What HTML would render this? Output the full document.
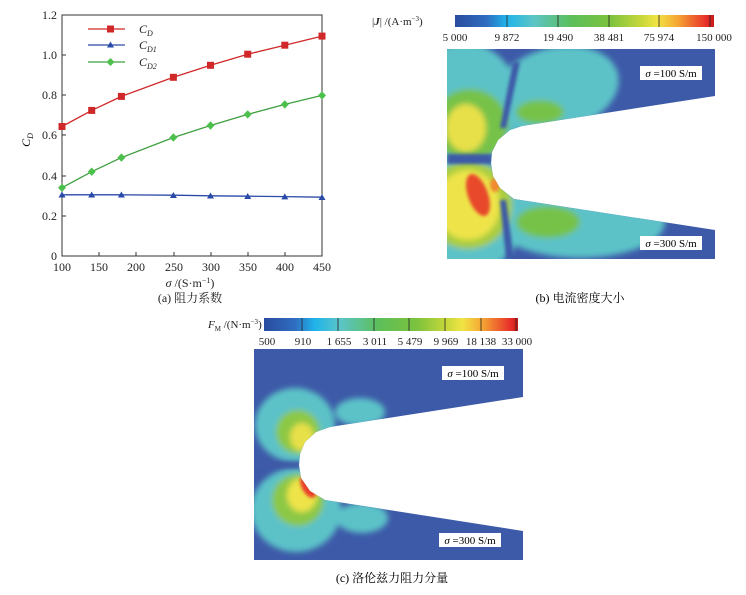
<!DOCTYPE html>
<html><head><meta charset="utf-8"><style>
html,body{margin:0;padding:0;background:#fff;}
svg{display:block;font-family:"Liberation Serif","Noto Serif CJK SC",serif;}
</style></head><body>
<svg width="746" height="595" viewBox="0 0 746 595" xmlns="http://www.w3.org/2000/svg">
<defs>
<linearGradient id="cm" x1="0" x2="1" y1="0" y2="0">
<stop offset="0" stop-color="#2a4c9e"/><stop offset="0.12" stop-color="#2f6cc0"/>
<stop offset="0.2" stop-color="#1fb4ea"/><stop offset="0.3" stop-color="#5cc4c8"/>
<stop offset="0.45" stop-color="#5cbf5a"/><stop offset="0.6" stop-color="#7cc23e"/>
<stop offset="0.72" stop-color="#c8d83a"/><stop offset="0.78" stop-color="#f0e444"/>
<stop offset="0.86" stop-color="#f5a534"/><stop offset="0.97" stop-color="#e8302a"/><stop offset="1" stop-color="#c81818"/>
</linearGradient>
<filter id="bl" x="-30%" y="-30%" width="160%" height="160%"><feGaussianBlur stdDeviation="3"/></filter>
<filter id="bl2" x="-30%" y="-30%" width="160%" height="160%"><feGaussianBlur stdDeviation="1.5"/></filter>
<clipPath id="cb"><polygon points="447,49 715,49 715,96 522,126 510,130 498,140 492,152 491,163 493,176 500,188 514,199 715,230 715,259 447,259"/></clipPath>
<clipPath id="cc"><polygon points="254,349 523,349 523,397 330,427 316,432 305,442 300,454 299,465 301,478 310,491 325,500 523,531 523,560 254,560"/></clipPath>
</defs>

<!-- (a) chart -->
<rect x="62" y="15" width="260" height="241" fill="#fff" stroke="#333" stroke-width="1"/>
<g stroke="#333" stroke-width="1">
<line x1="62" y1="216" x2="66" y2="216"/><line x1="62" y1="176" x2="66" y2="176"/><line x1="62" y1="135" x2="66" y2="135"/><line x1="62" y1="95" x2="66" y2="95"/><line x1="62" y1="55" x2="66" y2="55"/>
<line x1="99" y1="256" x2="99" y2="252"/><line x1="136" y1="256" x2="136" y2="252"/><line x1="174" y1="256" x2="174" y2="252"/><line x1="211" y1="256" x2="211" y2="252"/><line x1="248" y1="256" x2="248" y2="252"/><line x1="285" y1="256" x2="285" y2="252"/>
</g>
<g font-size="12" fill="#222" text-anchor="end">
<text x="57" y="260">0</text><text x="57" y="220">0.2</text><text x="57" y="180">0.4</text><text x="57" y="139">0.6</text><text x="57" y="99">0.8</text><text x="57" y="59">1.0</text><text x="57" y="19">1.2</text>
</g>
<g font-size="12" fill="#222" text-anchor="middle">
<text x="62" y="271">100</text><text x="99" y="271">150</text><text x="136" y="271">200</text><text x="174" y="271">250</text><text x="211" y="271">300</text><text x="248" y="271">350</text><text x="285" y="271">400</text><text x="322" y="271">450</text>
<text x="190" y="287" font-size="12"><tspan font-style="italic">σ</tspan> /(S·m<tspan font-size="8" dy="-4">−1</tspan><tspan dy="4">)</tspan></text>
<text x="190" y="302" font-size="12">(a) 阻力系数</text>
</g>
<text transform="translate(30,140) rotate(-90)" font-size="12" font-style="italic" text-anchor="middle">C<tspan font-size="8" dy="3">D</tspan></text>
<polyline fill="none" stroke="#d02828" stroke-width="1.3" points="62,126.5 91.7,110.4 121.4,96.4 173.4,77.3 210.5,65.3 247.7,54.2 284.8,45.2 322,36.1"/>
<polyline fill="none" stroke="#3f9f3f" stroke-width="1.3" points="62,187.7 91.7,171.7 121.4,157.6 173.4,137.5 210.5,125.5 247.7,114.4 284.8,104.4 322,95.4"/>
<polyline fill="none" stroke="#2a4aa8" stroke-width="1.3" points="62,194.8 91.7,194.8 121.4,194.8 173.4,195.2 210.5,195.8 247.7,196.2 284.8,196.6 322,197.2"/>
<g fill="#d02828">
<rect x="58.5" y="123" width="7" height="7"/><rect x="88.2" y="106.9" width="7" height="7"/><rect x="117.9" y="92.9" width="7" height="7"/><rect x="169.9" y="73.8" width="7" height="7"/><rect x="207" y="61.8" width="7" height="7"/><rect x="244.2" y="50.7" width="7" height="7"/><rect x="281.3" y="41.7" width="7" height="7"/><rect x="318.5" y="32.6" width="7" height="7"/>
</g>
<g fill="#4cc04c">
<polygon points="62,183.5 66,187.7 62,191.9 58,187.7"/><polygon points="91.7,167.5 95.7,171.7 91.7,175.9 87.7,171.7"/><polygon points="121.4,153.4 125.4,157.6 121.4,161.8 117.4,157.6"/><polygon points="173.4,133.3 177.4,137.5 173.4,141.7 169.4,137.5"/><polygon points="210.5,121.3 214.5,125.5 210.5,129.7 206.5,125.5"/><polygon points="247.7,110.2 251.7,114.4 247.7,118.6 243.7,114.4"/><polygon points="284.8,100.2 288.8,104.4 284.8,108.6 280.8,104.4"/><polygon points="322,91.2 326,95.4 322,99.6 318,95.4"/>
</g>
<g fill="#2a4aa8">
<polygon points="62,191.5 65.5,197.5 58.5,197.5"/><polygon points="91.7,191.5 95.2,197.5 88.2,197.5"/><polygon points="121.4,191.5 124.9,197.5 117.9,197.5"/><polygon points="173.4,192 176.9,198 169.9,198"/><polygon points="210.5,192.5 214,198.5 207,198.5"/><polygon points="247.7,193 251.2,199 244.2,199"/><polygon points="284.8,193.4 288.3,199.4 281.3,199.4"/><polygon points="322,194 325.5,200 318.5,200"/>
</g>
<line x1="88" y1="29" x2="125" y2="29" stroke="#d02828" stroke-width="1.3"/><rect x="107" y="25.5" width="7" height="7" fill="#d02828"/>
<line x1="88" y1="45" x2="125" y2="45" stroke="#2a4aa8" stroke-width="1.3"/><polygon points="110.5,41.5 114,47.5 107,47.5" fill="#2a4aa8"/>
<line x1="88" y1="62" x2="125" y2="62" stroke="#3f9f3f" stroke-width="1.3"/><polygon points="110.5,58 114.5,62 110.5,66 106.5,62" fill="#4cc04c"/>
<g font-size="12" font-style="italic" fill="#222">
<text x="139" y="33">C<tspan font-size="8" dy="3">D</tspan></text>
<text x="139" y="49">C<tspan font-size="8" dy="3">D1</tspan></text>
<text x="139" y="66">C<tspan font-size="8" dy="3">D2</tspan></text>
</g>

<!-- (b) -->
<rect x="455" y="15" width="259" height="12" fill="url(#cm)"/>
<g stroke="#222" stroke-width="0.8"><line x1="507" y1="15" x2="507" y2="27"/><line x1="558" y1="15" x2="558" y2="27"/><line x1="609" y1="15" x2="609" y2="27"/><line x1="659" y1="15" x2="659" y2="27"/><line x1="710" y1="15" x2="710" y2="27"/></g>
<text x="372" y="25" font-size="11" fill="#222">|<tspan font-style="italic" font-weight="bold">J</tspan>| /(A·m<tspan font-size="7" dy="-4">−3</tspan><tspan dy="4">)</tspan></text>
<g font-size="11" fill="#222" text-anchor="middle">
<text x="455" y="41">5 000</text><text x="507" y="41">9 872</text><text x="558" y="41">19 490</text><text x="609" y="41">38 481</text><text x="659" y="41">75 974</text><text x="714" y="41">150 000</text>
</g>
<g clip-path="url(#cb)">
<rect x="447" y="49" width="268" height="210" fill="#3d5aa8"/>
<g filter="url(#bl)">
<ellipse cx="465" cy="105" rx="55" ry="62" fill="#5cc2c8"/>
<ellipse cx="555" cy="90" rx="65" ry="42" fill="#5cc2c8" transform="rotate(-15 555 90)"/>
<ellipse cx="465" cy="215" rx="60" ry="58" fill="#5cc2c8"/>
<ellipse cx="580" cy="222" rx="85" ry="36" fill="#5cc2c8"/>
<ellipse cx="470" cy="125" rx="38" ry="36" fill="#76c24a"/>
<ellipse cx="540" cy="112" rx="24" ry="12" fill="#76c24a"/>
<ellipse cx="468" cy="205" rx="44" ry="44" fill="#a8cc40"/>
<ellipse cx="548" cy="222" rx="32" ry="16" fill="#76c24a"/>
<ellipse cx="466" cy="128" rx="20" ry="24" fill="#e8e04a"/>
<ellipse cx="468" cy="205" rx="32" ry="35" fill="#eee44a"/>
</g>
<g filter="url(#bl2)">
<ellipse cx="478" cy="195" rx="10" ry="22" fill="#e84a2c" transform="rotate(-20 478 195)"/>
<ellipse cx="495" cy="185" rx="5" ry="7" fill="#f08a30"/>
<rect x="447" y="154" width="45" height="10" fill="#3d5aa8"/>
<polygon points="513,62 520,62 506,128 500,128" fill="#3d5aa8"/>
<polygon points="500,200 506,200 514,259 506,259" fill="#3d5aa8"/>
</g>
</g>
<rect x="640" y="66" width="62" height="14" fill="#fff"/>
<text x="671" y="77" font-size="11" text-anchor="middle"><tspan font-style="italic">σ</tspan> =100 S/m</text>
<rect x="640" y="236" width="62" height="14" fill="#fff"/>
<text x="671" y="247" font-size="11" text-anchor="middle"><tspan font-style="italic">σ</tspan> =300 S/m</text>
<text x="580" y="302" font-size="12" text-anchor="middle">(b) 电流密度大小</text>

<!-- (c) -->
<rect x="264" y="318" width="254" height="13" fill="url(#cm)"/>
<g stroke="#222" stroke-width="0.8"><line x1="302" y1="318" x2="302" y2="331"/><line x1="338" y1="318" x2="338" y2="331"/><line x1="374" y1="318" x2="374" y2="331"/><line x1="409" y1="318" x2="409" y2="331"/><line x1="445" y1="318" x2="445" y2="331"/><line x1="481" y1="318" x2="481" y2="331"/><line x1="516" y1="318" x2="516" y2="331"/></g>
<text x="208" y="328" font-size="11" fill="#222"><tspan font-style="italic">F</tspan><tspan font-size="7" dy="3">M</tspan><tspan dy="-3"> /(N·m</tspan><tspan font-size="7" dy="-4">−3</tspan><tspan dy="4">)</tspan></text>
<g font-size="11" fill="#222" text-anchor="middle">
<text x="267" y="345">500</text><text x="303" y="345">910</text><text x="339" y="345">1 655</text><text x="375" y="345">3 011</text><text x="410" y="345">5 479</text><text x="446" y="345">9 969</text><text x="481" y="345">18 138</text><text x="517" y="345">33 000</text>
</g>
<g clip-path="url(#cc)">
<rect x="254" y="349" width="269" height="211" fill="#3d5aa8"/>
<g filter="url(#bl)">
<ellipse cx="295" cy="425" rx="40" ry="37" fill="#5cc2c8"/>
<ellipse cx="360" cy="412" rx="25" ry="14" fill="#5cc2c8"/>
<ellipse cx="296" cy="510" rx="45" ry="42" fill="#5cc2c8"/>
<ellipse cx="362" cy="518" rx="26" ry="15" fill="#5cc2c8"/>
<ellipse cx="298" cy="432" rx="22" ry="22" fill="#8cc844"/>
<ellipse cx="298" cy="500" rx="26" ry="26" fill="#8cc844"/>
<ellipse cx="302" cy="437" rx="12" ry="14" fill="#e8e04a"/>
<ellipse cx="302" cy="495" rx="15" ry="17" fill="#eee44a"/>
</g>
<g filter="url(#bl2)">
<ellipse cx="308" cy="487" rx="6" ry="12" fill="#e8402c" transform="rotate(-30 308 487)"/>
<rect x="254" y="462" width="45" height="6" fill="#3d5aa8" opacity="0.8"/>
</g>
</g>
<rect x="442" y="366" width="62" height="14" fill="#fff"/>
<text x="473" y="377" font-size="11" text-anchor="middle"><tspan font-style="italic">σ</tspan> =100 S/m</text>
<rect x="439" y="533" width="62" height="14" fill="#fff"/>
<text x="470" y="544" font-size="11" text-anchor="middle"><tspan font-style="italic">σ</tspan> =300 S/m</text>
<text x="392" y="582" font-size="12" text-anchor="middle">(c) 洛伦兹力阻力分量</text>
</svg>
</body></html>
